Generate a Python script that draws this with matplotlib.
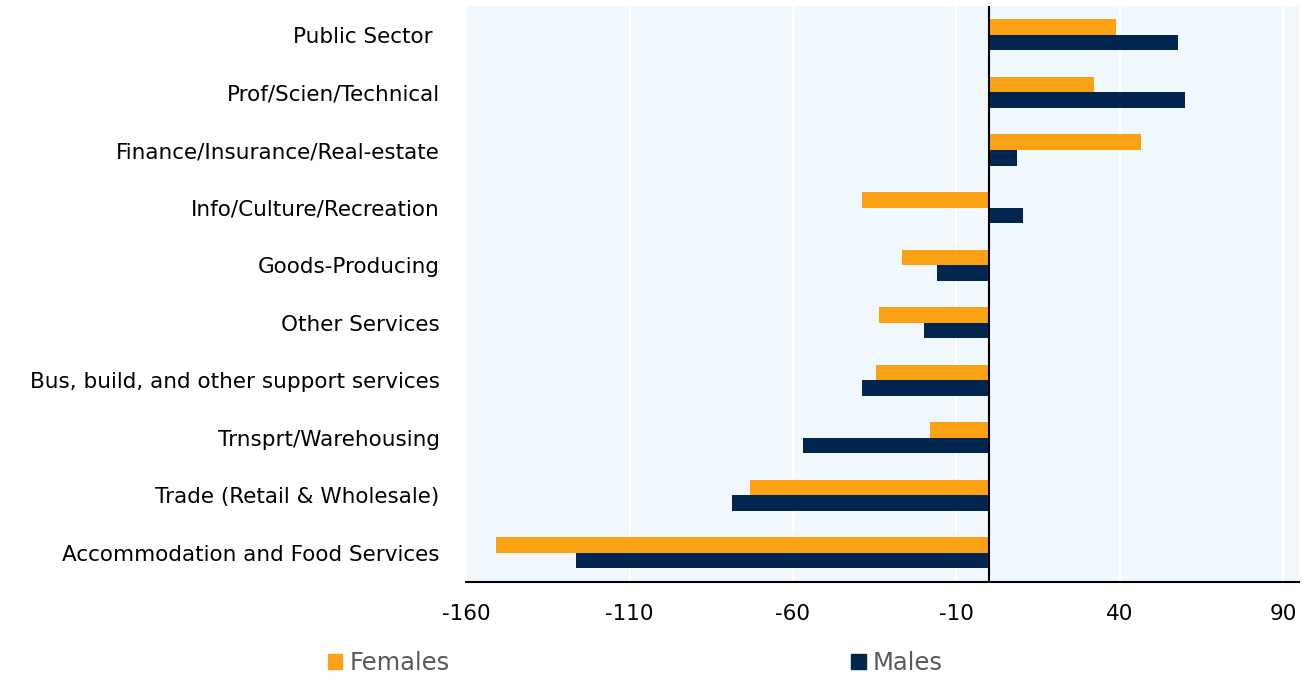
import numpy as np
import matplotlib.pyplot as plt
from matplotlib.patches import Patch

# industries, top to bottom as in the chart
sectors = [
    "Public Sector ",
    "Prof/Scien/Technical",
    "Finance/Insurance/Real-estate",
    "Info/Culture/Recreation",
    "Goods-Producing",
    "Other Services",
    "Bus, build, and other support services",
    "Trnsprt/Warehousing",
    "Trade (Retail & Wholesale)",
    "Accommodation and Food Services",
]
females = [39, 32, 46.5, -39, -26.5, -33.5, -34.5, -18, -73, -151]
males = [58, 60, 8.5, 10.5, -16, -20, -39, -57, -78.5, -126.5]

x_ticks = [-160, -110, -60, -10, 40, 90]

orange = "#FAA214"
navy = "#00264F"

plt.rcParams["font.family"] = ["DejaVu Sans"]

fig = plt.figure(figsize=(13.02, 6.78), dpi=100)
ax = fig.add_axes([0.358, 0.142, 0.640, 0.849])
ax.set_facecolor("#F0F7FD")

y = np.arange(len(sectors))
h = 0.27
ax.barh(y - h / 2, females, height=h, color=orange, zorder=3)
ax.barh(y + h / 2, males, height=h, color=navy, zorder=3)

ax.set_ylim(len(sectors) - 0.5, -0.5)
ax.set_xlim(-160, 95)
ax.set_xticks(x_ticks)
ax.set_xticklabels([str(v) for v in x_ticks], fontsize=15.5)
ax.set_yticks(y)
ax.set_yticklabels(sectors, fontsize=15.5)
ax.tick_params(length=0, pad=16, axis="x")
ax.tick_params(length=0, pad=19, axis="y")

ax.grid(axis="x", color="white", linewidth=1.6, zorder=1)
ax.axvline(0, color="black", linewidth=1.5, zorder=4)

for side in ["top", "right", "left"]:
    ax.spines[side].set_visible(False)
ax.spines["bottom"].set_color("black")
ax.spines["bottom"].set_linewidth(1.5)

handles = [Patch(color=orange, label="Females"), Patch(color=navy, label="Males")]
leg = fig.legend(handles=handles, loc="center", bbox_to_anchor=(0.488, 0.022),
                 ncol=2, frameon=False, fontsize=17.5, handlelength=0.6,
                 handleheight=0.6, handletextpad=0.3, columnspacing=16.5)
for t in leg.get_texts():
    t.set_color("#595959")

fig.savefig("out.png", dpi=100)
